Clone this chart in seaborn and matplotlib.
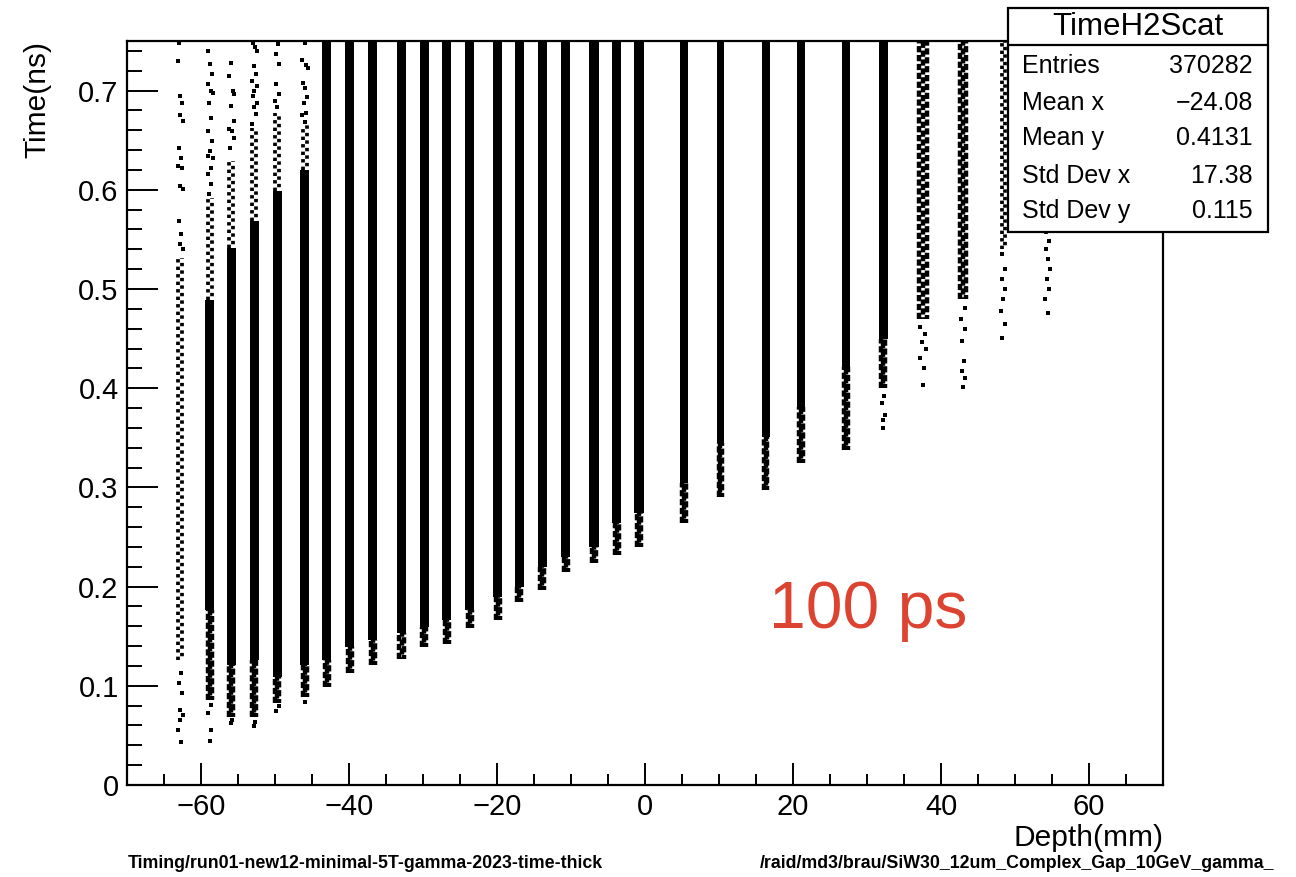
import numpy as np
import pandas as pd
import matplotlib
matplotlib.use("Agg")
import matplotlib.pyplot as plt
import seaborn as sns
from matplotlib.patches import Rectangle
from matplotlib.lines import Line2D

# ---------------- data ----------------
layer_x = [-62.8, -58.8, -55.9, -52.8, -49.7, -46.0, -43.0, -39.9, -36.8, -32.9,
           -29.8, -26.8, -23.7, -19.9, -17.0, -13.9, -10.7, -6.9, -3.8, -0.8,
           5.3, 10.2, 16.3, 21.1, 27.2, 32.2, 37.6, 43.0, 48.4, 54.4]
# lowest edge of the tapering tail
tail_lo = [0.126, 0.086, 0.069, 0.069, 0.083, 0.089, 0.099, 0.113, 0.121, 0.127,
           0.139, 0.142, 0.158, 0.166, 0.184, 0.197, 0.215, 0.224, 0.232, 0.240,
           0.264, 0.290, 0.297, 0.325, 0.338, 0.400, 0.470, 0.490, 0.540, 0.555]
# solid core of each layer (nan = no solid core)
core_lo = [np.nan, 0.176, 0.121, 0.126, 0.109, 0.121, 0.126, 0.139, 0.146, 0.153,
           0.159, 0.166, 0.176, 0.190, 0.200, 0.220, 0.230, 0.240, 0.264, 0.274,
           0.304, 0.345, 0.351, 0.381, 0.421, 0.450, np.nan, np.nan, np.nan, np.nan]
core_hi = [np.nan, 0.489, 0.541, 0.569, 0.599, 0.620, 0.750, 0.750, 0.750, 0.750,
           0.750, 0.750, 0.750, 0.750, 0.750, 0.750, 0.750, 0.750, 0.750, 0.750,
           0.750, 0.750, 0.750, 0.750, 0.750, 0.750, np.nan, np.nan, np.nan, np.nan]
# top of the speckled head
head_hi = [0.531, 0.592, 0.629, 0.662, 0.677, 0.665, 0.750, 0.750, 0.750, 0.750,
           0.750, 0.750, 0.750, 0.750, 0.750, 0.750, 0.750, 0.750, 0.750, 0.750,
           0.750, 0.750, 0.750, 0.750, 0.750, 0.750, 0.750, 0.750, 0.750, 0.750]
layer_w = [1.1, 1.2, 1.2, 1.2, 1.2, 1.2, 1.2, 1.2, 1.2, 1.25,
           1.2, 1.2, 1.2, 1.25, 1.2, 1.25, 1.2, 1.25, 1.2, 1.25,
           1.15, 1.05, 1.05, 1.05, 1.1, 1.15, 1.7, 1.3, 1.0, 1.0]
body_style = ["light"] + ["solid"] * 25 + ["dense", "dense", "light", "light"]

# isolated hits (layer index -> times, x offsets in mm)
sparse_y = {
    0: [0.748, 0.730, 0.695, 0.688, 0.675, 0.669, 0.642, 0.632, 0.624, 0.622, 0.604, 0.601,
        0.569, 0.555, 0.545, 0.540, 0.113, 0.103, 0.093, 0.076, 0.071, 0.066, 0.055, 0.043],
    1: [0.740, 0.727, 0.717, 0.707, 0.700, 0.698, 0.687, 0.672, 0.659, 0.649, 0.639, 0.634,
        0.632, 0.622, 0.616, 0.606, 0.596, 0.081, 0.073, 0.055, 0.044],
    2: [0.728, 0.715, 0.700, 0.697, 0.684, 0.669, 0.661, 0.659, 0.652, 0.642, 0.066, 0.062],
    3: [0.748, 0.744, 0.740, 0.725, 0.717, 0.710, 0.705, 0.700, 0.695, 0.687, 0.683, 0.676,
        0.666, 0.064, 0.059],
    4: [0.747, 0.737, 0.727, 0.707, 0.697, 0.690, 0.683, 0.080, 0.075],
    5: [0.748, 0.731, 0.726, 0.723, 0.708, 0.703, 0.694, 0.688, 0.677, 0.675, 0.668, 0.084],
    25: [0.392, 0.385, 0.373, 0.368, 0.360],
    26: [0.462, 0.455, 0.447, 0.440, 0.430, 0.420, 0.403],
    27: [0.481, 0.470, 0.460, 0.448, 0.427, 0.417, 0.410, 0.401],
    28: [0.535, 0.520, 0.510, 0.500, 0.490, 0.478, 0.465, 0.451],
    29: [0.548, 0.540, 0.530, 0.520, 0.510, 0.500, 0.490, 0.476],
}
sparse_dx = {
    0: [-0.2, -0.3, -0.1, 0.2, 0.0, 0.3, -0.2, 0.1, -0.3, 0.2, 0.0, 0.3,
        -0.2, 0.1, -0.1, 0.3, 0.1, -0.2, 0.2, -0.1, 0.3, 0.0, -0.3, 0.1],
    1: [-0.2, 0.0, 0.3, -0.3, 0.1, 0.4, -0.1, 0.2, -0.3, 0.3, 0.0, -0.2,
        0.4, 0.1, -0.3, 0.2, -0.1, 0.2, -0.2, 0.1, 0.0],
    2: [0.0, -0.3, 0.2, 0.4, -0.1, 0.3, -0.3, 0.1, 0.4, -0.2, 0.1, -0.1],
    3: [-0.2, 0.1, 0.3, -0.1, 0.2, -0.3, 0.4, 0.0, -0.2, 0.3, -0.1, 0.2, -0.3, 0.1, -0.1],
    4: [0.1, -0.2, 0.3, -0.1, 0.2, -0.3, 0.0, 0.2, -0.1],
    5: [0.0, -0.3, 0.2, 0.4, -0.2, 0.1, 0.3, -0.1, 0.2, -0.3, 0.1, 0.0],
    25: [0.1, -0.2, 0.2, -0.1, 0.0],
    26: [-0.5, 0.3, -0.2, 0.4, -0.4, 0.1, -0.1],
    27: [0.2, -0.3, 0.3, -0.1, 0.1, -0.2, 0.2, 0.0],
    28: [-0.2, 0.2, -0.1, 0.3, 0.0, -0.3, 0.2, -0.1],
    29: [0.2, -0.2, 0.1, 0.3, -0.1, 0.2, -0.3, 0.0],
}

x_ticks = [-60, -40, -20, 0, 20, 40, 60]
y_ticks = [0, 0.1, 0.2, 0.3, 0.4, 0.5, 0.6, 0.7]
stat_names = ["Entries", "Mean x", "Mean y", "Std Dev x", "Std Dev y"]
stat_values = ["370282", "\u221224.08", "0.4131", "17.38", "0.115"]
hist_name = "TimeH2Scat"
annotation = "100 ps"
footer_left = "Timing/run01-new12-minimal-5T-gamma-2023-time-thick"
footer_right = "/raid/md3/brau/SiW30_12um_Complex_Gap_10GeV_gamma_"

# ---------------- style ----------------
sns.set_theme(style="white")
plt.rcParams["font.family"] = ["Liberation Sans", "DejaVu Sans"]
for k in ["text.color", "axes.labelcolor", "xtick.color", "ytick.color", "axes.edgecolor"]:
    plt.rcParams[k] = "black"
plt.rcParams["axes.unicode_minus"] = True

W, H, DPI = 1296, 877, 100
fig = plt.figure(figsize=(W / DPI, H / DPI), dpi=DPI)
fig.patch.set_facecolor("white")
ax = fig.add_axes([127 / W, (H - 785) / H, (1163 - 127) / W, (785 - 41) / H])
ax.set_facecolor("white")


def speckle(x, lo, hi, w, kind):
    """Speckled column: staggered dotted vertical lines."""
    if kind == "light":
        offs = [-0.22 * w, 0.22 * w]
        dashes = [(0, (0.9, 1.1)), (1.0, (0.9, 1.1))]
        lw = 2.7
    else:
        offs = [-0.3 * w, 0.0, 0.3 * w]
        dashes = [(0, (1.4, 0.6)), (1.0, (1.4, 0.6)), (0.5, (1.4, 0.6))]
        lw = 3.2
    for o, d in zip(offs, dashes):
        lc = ax.vlines(x + o, lo, hi, colors="black", linewidth=lw, linestyles=[d], zorder=2)
        lc.set_capstyle("butt")


# ---------------- layers ----------------
for i, x in enumerate(layer_x):
    w = layer_w[i]
    if np.isnan(core_lo[i]):
        speckle(x, tail_lo[i], head_hi[i], w, body_style[i])
    else:
        ax.bar(x, core_hi[i] - core_lo[i], bottom=core_lo[i], width=w,
               color="black", linewidth=0, zorder=2)
        # speckled, tapering tail below the core
        speckle(x, tail_lo[i], core_lo[i], w * 0.75, "dense")
        # speckled head above the core
        if head_hi[i] > core_hi[i]:
            speckle(x, core_hi[i], head_hi[i], w, "light")

rows = []
for i, ys in sparse_y.items():
    for dx, y in zip(sparse_dx[i], ys):
        rows.append({"depth": layer_x[i] + dx, "time": y})
pts = pd.DataFrame(rows)
sns.scatterplot(data=pts, x="depth", y="time", ax=ax, marker="s", s=6,
                color="black", linewidth=0, zorder=3, legend=False)

# ---------------- axes ----------------
ax.set_xlim(-70, 70)
ax.set_ylim(0, 0.75)
ax.set_xticks(x_ticks)
ax.set_xticklabels([f"\u2212{abs(v)}" if v < 0 else str(v) for v in x_ticks])
ax.set_yticks(y_ticks)
ax.set_yticklabels(["0" if v == 0 else f"{v:.1f}" for v in y_ticks])
ax.set_xticks(np.arange(-65, 70, 5), minor=True)
ax.set_yticks(np.arange(0.02, 0.75, 0.02), minor=True)
ax.tick_params(axis="both", which="both", direction="in", colors="black",
               labelsize=21, width=1.4, bottom=True, left=True, top=False, right=False)
ax.tick_params(axis="x", which="major", length=15.8, pad=6)
ax.tick_params(axis="x", which="minor", length=7.9)
ax.tick_params(axis="y", which="major", length=22.3, pad=6)
ax.tick_params(axis="y", which="minor", length=10.8)
for s in ax.spines.values():
    s.set_visible(True)
    s.set_color("black")
    s.set_linewidth(1.6)
ax.set_xlabel("")
ax.set_ylabel("")

fig.text(1164 / W, (H - 846) / H, "Depth(mm)", ha="right", va="baseline", fontsize=21.5)
fig.text(37 / W, (H - 41) / H, "Time(ns)", ha="center", va="top", rotation=90, fontsize=21.5)

ax.text(16.7, 0.158, annotation, ha="left", va="baseline", fontsize=47.5, color="#DC4330")

fig.text(128 / W, (H - 868) / H, footer_left, ha="left", va="baseline",
         fontsize=12.8, fontweight="bold")
fig.text(760 / W, (H - 868) / H, footer_right, ha="left", va="baseline",
         fontsize=12.8, fontweight="bold")

# ---------------- stats box ----------------
bx0, bx1, by_top, by_bot, by_div = 1008, 1268, 8, 232, 45
fig.add_artist(Rectangle((bx0 / W, (H - by_bot) / H), (bx1 - bx0) / W, (by_bot - by_top) / H,
                         transform=fig.transFigure, facecolor="white", edgecolor="black",
                         linewidth=1.6, zorder=10))
fig.add_artist(Line2D([bx0 / W, bx1 / W], [(H - by_div) / H] * 2, transform=fig.transFigure,
                      color="black", linewidth=1.6, zorder=11))
fig.text((bx0 + bx1) / 2 / W, (H - 27) / H, hist_name, ha="center", va="center",
         fontsize=22.5, zorder=12)
row_y = [66, 103, 138, 176, 211]
for name, val, yy in zip(stat_names, stat_values, row_y):
    fig.text(1022 / W, (H - yy) / H, name, ha="left", va="center", fontsize=18, zorder=12)
    fig.text(1253 / W, (H - yy) / H, val, ha="right", va="center", fontsize=18, zorder=12)

fig.savefig("out.png", dpi=DPI)
